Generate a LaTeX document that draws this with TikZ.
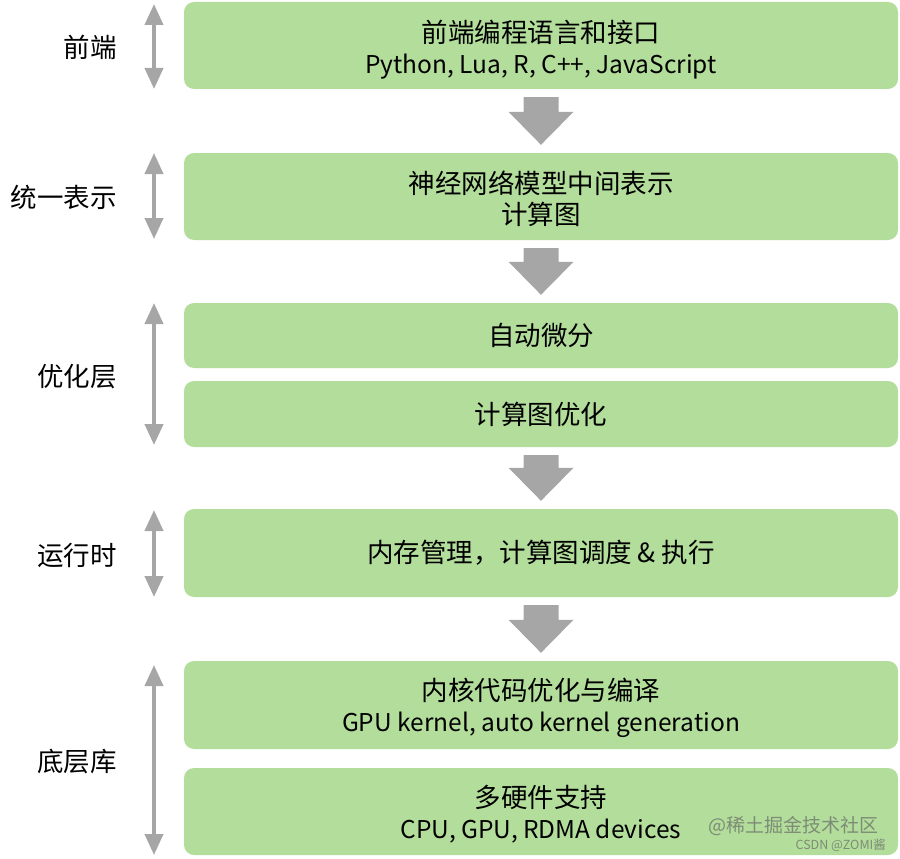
\documentclass[tikz,border=0pt]{standalone}
\usepackage{fontspec}
\setmainfont{Noto Sans CJK SC}
\usetikzlibrary{arrows.meta,calc}
\definecolor{boxgreen}{RGB}{179,221,155}
\definecolor{arrowgray}{RGB}{166,166,166}
\definecolor{wmgray}{RGB}{125,140,118}
\newcommand\cjkfs{\fontsize{26.5}{31}\selectfont}
\newcommand\latfs{\fontsize{24.5}{31}\selectfont}
\newcommand\downblock[2]{%
  \path ([yshift=-8pt]#1.south) coordinate (s) ([yshift=8pt]#2.north) coordinate (t);
  \fill[arrowgray] let \p1=(s), \p2=(t) in
    (\x1-17.5pt,\y1) -- (\x1+17.5pt,\y1) -- (\x1+17.5pt,\y2+33pt) -- (\x1+32.5pt,\y2+33pt)
    -- (\x1,\y2) -- (\x1-32.5pt,\y2+33pt) -- (\x1-17.5pt,\y2+33pt) -- cycle;}
\tikzset{
  box/.style={fill=boxgreen, rounded corners=10pt, minimum width=714pt, inner sep=0pt, align=center, text=black, font=\cjkfs},
  boxtext/.style={inner sep=0pt, align=center, text=black, font=\cjkfs},
  lvl/.style={anchor=east, font=\cjkfs, inner sep=0pt},
  dbl/.style={draw=arrowgray, line width=4pt, {Triangle[length=21pt,width=18pt]}-{Triangle[length=21pt,width=18pt]}},
}
\begin{document}
\begin{tikzpicture}[x=1pt,y=-1pt]
\useasboundingbox (0,0) rectangle (900,859);
% boxes
\node[box, minimum height=87pt] (b1) at (541,45.5) {};
\node[boxtext] (t1) at ([yshift=-4pt]b1.center) {前端编程语言和接口\\{\latfs Python, Lua, R, C++, JavaScript}};
\node[box, minimum height=87pt] (b2) at (541,196.5) {};
\node[boxtext] (t2) at ([yshift=-2pt]b2.center) {神经网络模型中间表示\\计算图};
\node[box, minimum height=65pt] (b3) at (541,335.5) {自动微分};
\node[box, minimum height=66pt] (b4) at (541,414) {计算图优化};
\node[box, minimum height=88pt] (b5) at (541,553) {内存管理，计算图调度 \& 执行};
\node[box, minimum height=88pt] (b6) at (541,705) {};
\node[boxtext] (t6) at ([yshift=-3pt]b6.center) {内核代码优化与编译\\{\latfs GPU kernel, auto kernel generation}};
\node[box, minimum height=87pt] (b7) at (541,811.5) {};
\node[boxtext] (t7) at ([yshift=-3pt]b7.center) {多硬件支持\\{\latfs CPU, GPU, RDMA devices}};
% down block arrows
\downblock{b1}{b2}
\downblock{b2}{b3}
\downblock{b4}{b5}
\downblock{b5}{b6}
% level labels
\node[lvl] (l1) at (117,47) {前端};
\node[lvl] (l2) at (117,197) {统一表示};
\node[lvl] (l3) at (117,377) {优化层};
\node[lvl] (l4) at (117,555) {运行时};
\node[lvl] (l5) at (117,762) {底层库};
% double arrows
\coordinate (u1) at (154,4);   \coordinate (d1) at (154,89);
\coordinate (u2) at (154,153); \coordinate (d2) at (154,239);
\coordinate (u3) at (154,303); \coordinate (d3) at (154,445);
\coordinate (u4) at (154,510); \coordinate (d4) at (154,597);
\coordinate (u5) at (154,665); \coordinate (d5) at (154,855);
\draw[dbl] (u1) -- (d1);
\draw[dbl] (u2) -- (d2);
\draw[dbl] (u3) -- (d3);
\draw[dbl] (u4) -- (d4);
\draw[dbl] (u5) -- (d5);
% watermark
\node[anchor=east, text=wmgray, font=\fontsize{19}{20}\selectfont, inner sep=0pt] (wm1) at (879,826) {@稀土掘金技术社区};
\node[anchor=east, text=wmgray, font=\fontsize{12.5}{13}\selectfont, inner sep=0pt] (wm2) at (886,845) {CSDN @ZOMI酱};
\end{tikzpicture}
\end{document}
